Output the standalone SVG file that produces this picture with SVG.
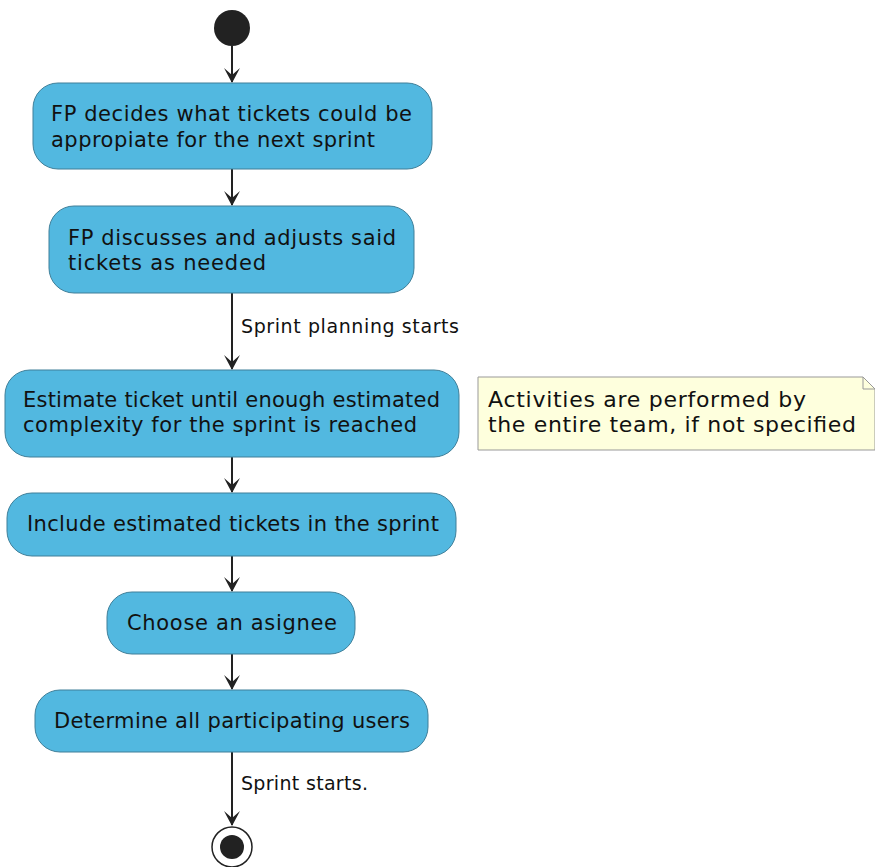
<svg xmlns="http://www.w3.org/2000/svg" width="875" height="867" viewBox="0 0 875 867">
<style>
.act{fill:#52B8E0;stroke:#3F7F99;stroke-width:1}
.t{font-family:"DejaVu Sans",sans-serif;font-size:21px;fill:#111}
.nt{font-family:"DejaVu Sans",sans-serif;font-size:22px;fill:#111}
.lbl{font-family:"DejaVu Sans",sans-serif;font-size:19px;fill:#111}
.ln{stroke:#222;stroke-width:2;fill:none}
.ah{fill:#222;stroke:none}
</style>
<rect width="875" height="867" fill="#fff"/>
<g id="connectors">
<line class="ln" x1="232" y1="46" x2="232" y2="82"/>
<path class="ah" d="M224,68 L232,83 L240,68 L232,75 Z"/>
<line class="ln" x1="232" y1="169" x2="232" y2="205"/>
<path class="ah" d="M224,191 L232,206 L240,191 L232,198 Z"/>
<line class="ln" x1="232" y1="293" x2="232" y2="369"/>
<path class="ah" d="M224,355 L232,370 L240,355 L232,362 Z"/>
<text class="lbl" x="241" y="333" textLength="218">Sprint planning starts</text>
<line class="ln" x1="232" y1="457" x2="232" y2="492"/>
<path class="ah" d="M224,478 L232,493 L240,478 L232,485 Z"/>
<line class="ln" x1="232" y1="556" x2="232" y2="591"/>
<path class="ah" d="M224,577 L232,592 L240,577 L232,584 Z"/>
<line class="ln" x1="232" y1="654" x2="232" y2="689"/>
<path class="ah" d="M224,675 L232,690 L240,675 L232,682 Z"/>
<line class="ln" x1="232" y1="752" x2="232" y2="825"/>
<path class="ah" d="M224,811 L232,826 L240,811 L232,818 Z"/>
<text class="lbl" x="241" y="790" textLength="127">Sprint starts.</text>
</g>
<g id="start"><circle cx="232" cy="28" r="18" fill="#222"/></g>
<g id="a1">
<rect class="act" x="33" y="83" width="399" height="86" rx="25"/>
<text class="t" x="51" y="121" textLength="361">FP decides what tickets could be</text>
<text class="t" x="51" y="147" textLength="324">appropiate for the next sprint</text>
</g>
<g id="a2">
<rect class="act" x="49" y="206" width="365" height="87" rx="25"/>
<text class="t" x="68" y="245" textLength="328">FP discusses and adjusts said</text>
<text class="t" x="68" y="270" textLength="198">tickets as needed</text>
</g>
<g id="a3">
<rect class="act" x="5" y="370" width="454" height="87" rx="25"/>
<text class="t" x="23" y="407" textLength="417">Estimate ticket until enough estimated</text>
<text class="t" x="23" y="432" textLength="394">complexity for the sprint is reached</text>
</g>
<g id="note">
<path d="M478,377 H863 L875,389 V450 H478 Z" fill="#FEFFDD" stroke="#999" stroke-width="1"/>
<path d="M863,377 V389 H875" fill="none" stroke="#999" stroke-width="1"/>
<text class="nt" x="488" y="407" textLength="318">Activities are performed by</text>
<text class="nt" x="488" y="432" textLength="368">the entire team, if not specified</text>
</g>
<g id="a4">
<rect class="act" x="7" y="493" width="449" height="63" rx="25"/>
<text class="t" x="27" y="531" textLength="412">Include estimated tickets in the sprint</text>
</g>
<g id="a5">
<rect class="act" x="107" y="592" width="248" height="62" rx="25"/>
<text class="t" x="127" y="630" textLength="210">Choose an asignee</text>
</g>
<g id="a6">
<rect class="act" x="35" y="690" width="393" height="62" rx="25"/>
<text class="t" x="54" y="728" textLength="356">Determine all participating users</text>
</g>
<g id="end">
<circle cx="232" cy="847" r="20" fill="#fff" stroke="#222" stroke-width="1.5"/>
<circle cx="232" cy="847" r="12" fill="#222"/>
</g>
</svg>
